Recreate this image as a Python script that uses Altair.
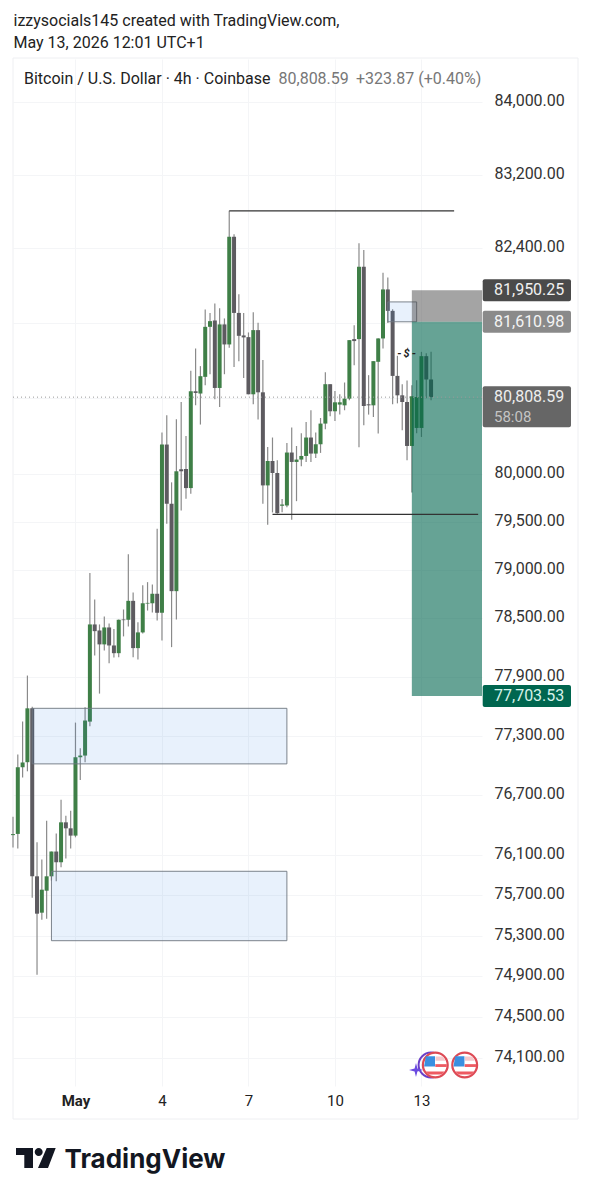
import altair as alt
import pandas as pd

opens = [76299,76311,76981,77032,77578,75888,75527,75745,75888,76135,76028,76427,76367,76294,77082,77099,77443,78436,78374,78231,78405,78220,78141,78487,78484,78679,78193,78354,78651,78654,
78752,78556,80308,79687,78779,80048,80051,79851,80871,80847,81024,81557,81625,80906,81583,81369,82526,81706,81465,81447,80839,81522,80860,79879,80135,80009,79666,79669,80224,80125,
80150,80188,80382,80213,80311,80529,80946,80659,80730,80722,80793,81426,81426,82202,80733,80722,81184,81433,81958,81728,81034,80828,80757,80293,80483,80483,81244,80996]
highs = [76484,77110,77443,77912,77595,76227,76055,76444,76135,76314,76654,76494,76544,77433,77173,77588,78966,78692,78436,78518,78446,78388,78487,78590,79160,78765,78459,78841,78872,78848,
79427,80435,80617,79911,80575,80757,80399,81088,81327,81138,81743,81706,81807,81757,81647,82807,82552,81907,81706,81497,81714,81600,81202,80283,80382,80143,79737,80325,80487,80293,
80427,80546,80670,80435,80588,81074,80946,80874,80839,80964,81415,81575,82455,82382,81042,81191,81436,82137,82087,81746,81248,80946,80985,80935,80988,81290,81276,81290]
lows = [76174,76164,76877,76940,75675,74915,75457,75467,75845,75838,75978,76065,76164,76277,76853,77032,77396,78118,77728,78169,78039,78097,78100,78313,78415,78100,78077,78343,78579,78559,
78477,78272,79479,78203,78487,79617,79739,79792,80722,80519,80935,81052,80786,80704,81052,81333,81130,81191,81013,80839,80733,80572,79687,79469,79596,79583,79599,79651,79520,79714,
80079,80125,80125,80167,80220,80469,80606,80557,80624,80670,80775,81148,80280,80511,80624,80599,80424,81327,81597,80733,80743,80459,80143,79805,80427,80388,80796,80775]
closes = [76309,76981,77029,77578,75888,75517,75755,75888,76135,76028,76427,76367,76294,77082,77099,77454,78436,78367,78231,78405,78220,78141,78484,78480,78679,78193,78354,78654,78658,78752,
78556,80308,79687,78779,80027,80027,79851,80871,80853,81031,81557,81618,80906,81583,81369,82526,81706,81461,81444,80839,81522,80860,79879,80135,80009,79589,79679,80224,80125,80150,
80188,80382,80213,80311,80529,80946,80659,80754,80754,80793,81415,81405,82202,80715,80722,81191,81433,81958,81728,81034,80828,80757,80293,80818,80810,81244,80996,80809]

price_ticks = [84000,83200,82400,81600,80800,80000,79500,79000,78500,77900,77300,76700,76100,75700,75300,74900,74500,74100]
day_ticks = [14,32,50,68,86]
day_labels = ["May","4","7","10","13"]

candles = pd.DataFrame({"bar": list(range(1, len(opens)+1)), "open": opens, "high": highs, "low": lows, "close": closes})
candles["top"] = candles[["open","close"]].max(axis=1)
candles["bot"] = candles[["open","close"]].min(axis=1)
candles["dir"] = ["up" if c >= o else "down" for o, c in zip(opens, closes)]

zones_blue = pd.DataFrame({"x0":[5,9,79],"x1":[58,58,85],"p0":[77578,75938,81824],"p1":[77015,75250,81611]})
zone_stop = pd.DataFrame({"x0":[84],"x1":[98.6],"p0":[81950.25],"p1":[81610.98]})
zone_target = pd.DataFrame({"x0":[84],"x1":[98.6],"p0":[81610.98],"p1":[77703.53]})
hlines = pd.DataFrame({"x0":[46,55],"x1":[92.8,97.8],"p":[82807,79576]})
last_line = pd.DataFrame({"x0":[1.0],"x1":[98.6],"p":[80808.59]})
markers = pd.DataFrame({"x":[81.4,82.9,84.4],"p":[81266,81266,81266],"t":["-","$","-"]})
badges = pd.DataFrame({"p":[81950.25,81610.98,77703.53],"label":["81,950.25","81,610.98","77,703.53"],
                       "fill":["#4a4a4a","#8a8a8a","#00664f"],"ink":["#f0f0f0","#f4f4f4","#d6f3ea"]})

xs = alt.Scale(domain=[1.0,98.6], nice=False, zero=False)
ys = alt.Scale(type="log", domain=[73830,84472], nice=False, zero=False)

label_expr = "datum.value==81600||datum.value==80800?'':format(datum.value,',.2f')"
day_expr = "{14:'May',32:'4',50:'7',68:'10',86:'13'}[datum.value]"
x_axis = alt.Axis(values=day_ticks, labelExpr=day_expr, domain=False, ticks=False, title=None,
        grid=True, gridColor="#f4f5f7", labelFont="Roboto", labelFontSize=15, labelColor="#222",
        labelFontWeight=alt.expr("datum.value==14?'bold':'normal'"), labelPadding=7, labelOverlap=False, labelFlush=False)
y_axis = alt.Axis(orient="right", values=price_ticks, labelExpr=label_expr, domain=False, ticks=False, title=None,
        grid=True, gridColor="#f4f5f7", labelFont="Roboto", labelFontSize=16, labelColor="#333", labelPadding=12,
        labelOffset=-1.5, labelOverlap=False, labelFlush=False, labelBound=False)
X = lambda f: alt.X(f, type="quantitative", scale=xs, axis=x_axis)
Y = lambda f: alt.Y(f, type="quantitative", scale=ys, axis=y_axis)

base = alt.Chart(candles).mark_rule(color="#8a8a8a", strokeWidth=1.2).encode(x=X("bar"), y=Y("low"), y2="high:Q")
bodies = alt.Chart(candles).mark_rule(strokeWidth=4).encode(
    x=X("bar"), y=Y("top"), y2="bot:Q",
    color=alt.Color("dir:N", scale=alt.Scale(domain=["up","down"], range=["#3f7f47","#5d5b60"]), legend=None),
)
blue = alt.Chart(zones_blue).mark_rect(fill="#2e7de0", fillOpacity=0.11, stroke="#6f7780", strokeWidth=1, strokeOpacity=0.9).encode(
    x=X("x0"), x2="x1:Q", y=Y("p0"), y2="p1:Q")
stop = alt.Chart(zone_stop).mark_rect(color="#4a4a4a", opacity=0.5).encode(x=X("x0"), x2="x1:Q", y=Y("p0"), y2="p1:Q")
target = alt.Chart(zone_target).mark_rect(color="#00664f", opacity=0.6).encode(x=X("x0"), x2="x1:Q", y=Y("p0"), y2="p1:Q")
lines = alt.Chart(hlines).mark_rule(color="#333", strokeWidth=1.2).encode(x=X("x0"), x2="x1:Q", y=Y("p"))
dotted = alt.Chart(last_line).mark_rule(color="#999", strokeWidth=1, strokeDash=[1,3]).encode(x=X("x0"), x2="x1:Q", y=Y("p"))
mk = alt.Chart(markers).mark_text(font="Roboto", fontSize=11, fontStyle="italic", fontWeight="bold", color="#222").encode(x=X("x"), y=Y("p"), text="t:N")

# price badges
bx = alt.value(469.7); bx2 = alt.value(558)
badge_rect = alt.Chart(badges).mark_rect(height=22, cornerRadius=2).encode(
    x=bx, x2=bx2, y=Y("p"), fill=alt.Fill("fill:N", scale=None))
badge_text = alt.Chart(badges).mark_text(font="Roboto", fontSize=16, align="left").encode(
    x=alt.value(481), y=Y("p"), text="label:N", color=alt.Color("ink:N", scale=None))
last_df = pd.DataFrame({"p":[80808.59],"label":["80,808.59"],"timer":["58:08"]})
last_rect = alt.Chart(last_df).mark_rect(height=41, cornerRadius=2, yOffset=9.5, color="#666666").encode(x=bx, x2=bx2, y=Y("p"))
last_text = alt.Chart(last_df).mark_text(font="Roboto", fontSize=16, align="left", color="#eeeeee").encode(x=alt.value(481), y=Y("p"), text="label:N")
last_timer = alt.Chart(last_df).mark_text(font="Roboto", fontSize=15, align="left", color="#c4c4c4", yOffset=20).encode(x=alt.value(481), y=Y("p"), text="timer:N")

# chrome: frame, texts, logo, icons (positions relative to the plot area)
one = pd.DataFrame({"a":[1]})
frame = alt.Chart(one).mark_rect(fill="white", fillOpacity=0, stroke="#eeeff2", strokeWidth=1).encode(
    x=alt.value(0), x2=alt.value(565), y=alt.value(-1), y2=alt.value(1060))
def chrome_text(txt, x, y, size, color="#222", font="Roboto", weight="normal"):
    return alt.Chart(pd.DataFrame({"t":[txt]})).mark_text(font=font, fontSize=size, color=color, align="left", fontWeight=weight).encode(
        x=alt.value(x), y=alt.value(y), text="t:N")
texts = [
    chrome_text("izzysocials145 created with TradingView.com,", 0.5, -38.5, 16),
    chrome_text("May 13, 2026 12:01 UTC+1", 0.5, -16, 16),
    chrome_text("Bitcoin / U.S. Dollar · 4h · Coinbase", 11, 20, 16),
    chrome_text("80,808.59", 265.5, 20, 16, "#777"),
    chrome_text("+323.87 (+0.40%)", 343, 20, 16, "#777"),
    chrome_text("TradingView", 51.5, 1101, 26, "#131722", "Inter", "bold"),
]
def shape(path, x, y, size, fill=None, stroke=None, sw=0.0):
    kw = dict(shape=path, size=size, strokeWidth=sw, opacity=1)
    if fill: kw.update(filled=True, fill=fill)
    else: kw.update(filled=False)
    if stroke: kw.update(stroke=stroke)
    return alt.Chart(one).mark_point(**kw).encode(x=alt.value(x), y=alt.value(y))
logo_path = ("M-1,-.5L-.15,-.5L-.15,.5L-.585,.5L-.585,-.15L-1,-.15Z"
             "M-.065,-.3A.2,.2 0 1 1 .335,-.3A.2,.2 0 1 1 -.065,-.3Z"
             "M.535,-.5L.985,-.5L.6,.5L.1,.5Z")
icons = [shape(logo_path, 23, 1099, 1600, fill="#131722"),
         shape("circle", 418, 1006, 615, stroke="#6a3fc8", sw=2.0),
         shape("M0,-1L.2,-.2L1,0L.2,.2L0,1L-.2,.2L-1,0L-.2,-.2Z", 403, 1011, 196, fill="#6a4ae0")]
for cx in (422.3, 451.7):
    icons += [
        shape("circle", cx, 1006, 615, fill="white", stroke="#dd4a55", sw=2.2),
        shape("M-.68,-.62L-.02,-.62L-.02,.1L-.8,.1Z", cx, 1006, 784, fill="#3a8fe0"),
        shape("M.02,-.6L.55,-.6L.72,-.3L.02,-.3Z", cx, 1006, 784, fill="#f6c9cc"),
        shape("M0,-.06L.82,-.06L.82,.14L0,.14Z", cx, 1006, 784, fill="#ee5a62"),
        shape("M-.68,.46L.68,.46L.46,.68L-.46,.68Z", cx, 1006, 784, fill="#ee5a62"),
    ]

chart = alt.layer(frame, base, bodies, blue, stop, target, lines, dotted, mk,
                  badge_rect, badge_text, last_rect, last_text, last_timer,
                  *texts, *icons).properties(
    width=469, height=1027,
    autosize=alt.AutoSizeParams(type="none"),
    padding={"left":5,"top":51,"right":100,"bottom":102},
    background="white",
).configure_view(stroke=None)

chart.save("out.html", embed_options={"renderer": "svg", "actions": False})
